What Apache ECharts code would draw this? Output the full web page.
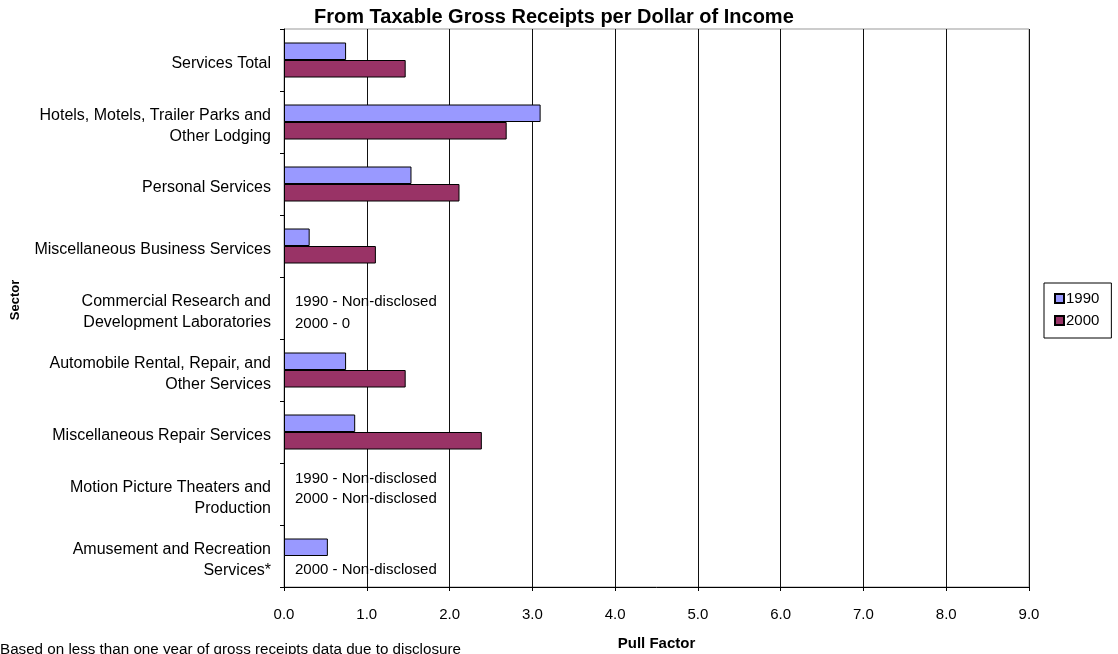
<!DOCTYPE html>
<html>
<head>
<meta charset="utf-8">
<script src="https://cdn.jsdelivr.net/npm/echarts@6/dist/echarts.min.js"></script>
<style>
    html, body { margin: 0; padding: 0; background: #fff; }
    #chart { width: 1118px; height: 654px; }
</style>
</head>
<body>
<div id="chart"></div>
<script>
// sectors, top to bottom
const sectors = [
    'Services Total',
    'Hotels, Motels, Trailer Parks and\nOther Lodging',
    'Personal Services',
    'Miscellaneous Business Services',
    'Commercial Research and\nDevelopment Laboratories',
    'Automobile Rental, Repair, and\nOther Services',
    'Miscellaneous Repair Services',
    'Motion Picture Theaters and\nProduction',
    'Amusement and Recreation\nServices*'
];
const pull1990 = [0.75, 3.10, 1.54, 0.31, 0, 0.75, 0.86, 0, 0.53];
const pull2000 = [1.47, 2.69, 2.12, 1.11, 0, 1.47, 2.39, 0, 0];
const notes1990 = ['', '', '', '', '1990 - Non-disclosed', '', '', '1990 - Non-disclosed', ''];
const notes2000 = ['', '', '', '', '2000 - 0', '', '', '2000 - Non-disclosed', '2000 - Non-disclosed'];
const xTicks = [0, 1, 2, 3, 4, 5, 6, 7, 8, 9];

// vertical nudge of the notes so they sit like in the original
const noteShift1990 = [0, 0, 0, 0, 3, 0, 0, -6, 0];
const noteShift2000 = [0, 0, 0, 0, 7, 0, 0, -4, 5];

const font = 'Liberation Sans, Arial, sans-serif';

function buildData(values, notes, shifts) {
    return values.map(function (v, i) {
        if (!notes[i]) return v;
        return {
            value: v,
            itemStyle: { borderWidth: 0 },
            label: {
                show: true,
                position: 'right',
                distance: 11,
                offset: [0, shifts[i]],
                formatter: notes[i],
                color: '#000',
                fontSize: 15,
                fontFamily: font
            }
        };
    });
}

let myChart = echarts.init(document.getElementById('chart'));
let option = {
    animation: false,
    textStyle: { fontFamily: font },
    title: {
        text: 'From Taxable Gross Receipts per Dollar of Income',
        left: 309,
        top: 2,
        textStyle: { fontSize: 20, fontWeight: 'bold', color: '#000', fontFamily: font }
    },
    legend: {
        orient: 'vertical',
        left: 1044,
        top: 283,
        padding: [8, 12, 10, 10],
        itemGap: 7,
        itemWidth: 9,
        itemHeight: 9,
        borderColor: '#000',
        borderWidth: 1,
        borderRadius: 0,
        icon: 'rect',
        textStyle: { fontSize: 15, color: '#000', padding: [0, 0, 0, -3] },
        data: ['1990', '2000']
    },
    grid: {
        left: 284,
        right: 89,
        top: 29,
        bottom: 67,
        outerBoundsMode: 'none',
        show: true,
        borderColor: '#999',
        borderWidth: 1
    },
    xAxis: {
        type: 'value',
        min: xTicks[0],
        max: xTicks[xTicks.length - 1],
        interval: 1,
        name: 'Pull Factor',
        nameLocation: 'middle',
        nameGap: 49,
        nameTextStyle: { fontSize: 15, fontWeight: 'bold', color: '#000' },
        axisLine: { show: true, lineStyle: { color: '#000' } },
        axisTick: { show: true, length: 4, lineStyle: { color: '#000' } },
        axisLabel: {
            color: '#000',
            fontSize: 15,
            margin: 20,
            formatter: function (v) { return v.toFixed(1); }
        },
        splitLine: { show: true, lineStyle: { color: '#111' } }
    },
    yAxis: {
        type: 'category',
        inverse: true,
        data: sectors,
        name: 'Sector',
        nameLocation: 'middle',
        nameRotate: 90,
        nameGap: 262,
        nameTextStyle: { fontSize: 13, fontWeight: 'bold', color: '#000', padding: [0, 0, 0, 16] },
        axisLine: { show: true, lineStyle: { color: '#000' } },
        axisTick: { show: true, length: 4, lineStyle: { color: '#000' } },
        axisLabel: {
            color: '#000',
            margin: 13,
            align: 'right',
            // each line goes in a rich box so the block sits a little low, as in the original
            formatter: function (v) {
                return v.split('\n').map(function (s) { return '{a|' + s + '}'; }).join('\n');
            },
            rich: {
                a: { fontSize: 16, lineHeight: 21, padding: [8, 0, 0, 0], color: '#000', align: 'right' }
            }
        },
        splitLine: { show: false }
    },
    series: [{
        name: '1990',
        type: 'bar',
        barWidth: 17.5,
        barGap: '0%',
        data: buildData(pull1990, notes1990, noteShift1990),
        itemStyle: { color: '#9999ff', borderColor: '#000', borderWidth: 1 }
    }, {
        name: '2000',
        type: 'bar',
        barWidth: 17.5,
        barGap: '0%',
        data: buildData(pull2000, notes2000, noteShift2000),
        itemStyle: { color: '#993366', borderColor: '#000', borderWidth: 1 }
    }],
    graphic: [{
        type: 'text',
        left: 0,
        top: 642,
        style: {
            text: 'Based on less than one year of gross receipts data due to disclosure',
            fontSize: 15.2,
            fontFamily: font,
            fill: '#000'
        }
    }]
};
myChart.setOption(option);
window.addEventListener('resize', function () {
    myChart.resize();
});
</script>
</body>
</html>
